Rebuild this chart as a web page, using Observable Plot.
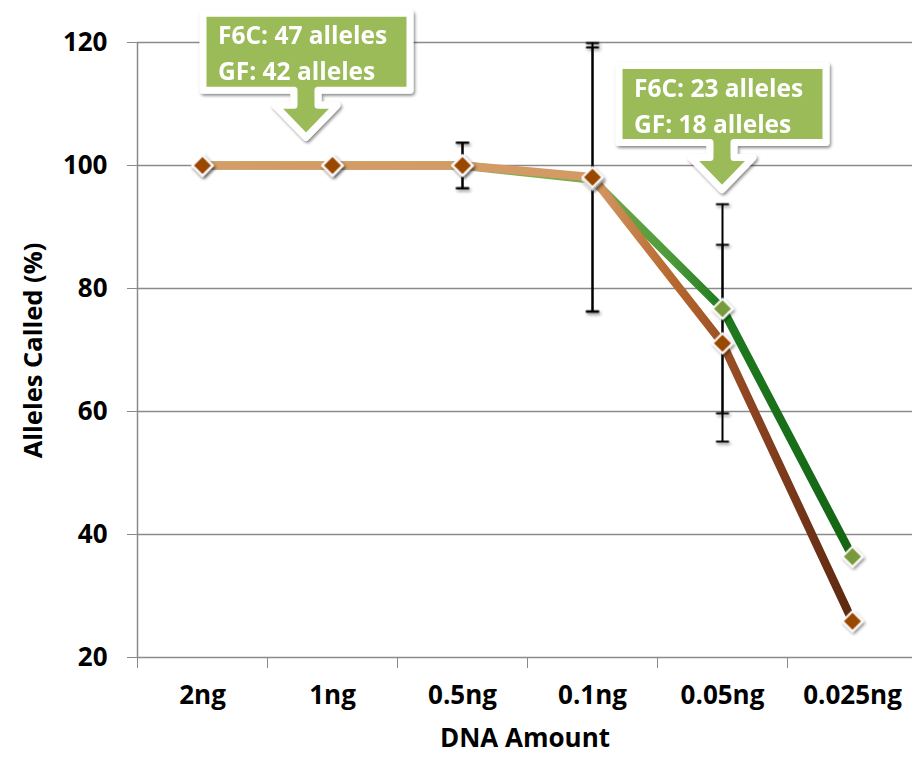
<!DOCTYPE html>
<html><head><meta charset="utf-8">
<script src="https://cdn.jsdelivr.net/npm/d3@7"></script>
<script src="https://cdn.jsdelivr.net/npm/@observablehq/plot@0.6"></script>
<style>
body{margin:0;background:#fff;overflow:hidden}
#chart svg{font-family:"Open Sans",Lato,sans-serif;overflow:visible}
#chart svg text{font-weight:700}
</style></head><body><div id="chart"></div>
<script>
const categories = ["2ng","1ng","0.5ng","0.1ng","0.05ng","0.025ng"];
const f6cValues = [100,100,100,97.7,76.7,36.4];
const gfValues = [100,100,100,98.1,71.1,25.9];
const f6cErrors = [0,0,3.7,21.5,17.0,0];
const gfErrors = [0,0,3.7,21.8,16.0,0];
const yTicks = [20,40,60,80,100,120];
const calloutLines = [["F6C: 47 alleles","GF: 42 alleles"],["F6C: 23 alleles","GF: 18 alleles"]];
const calloutX = [0.8, 4.0];
const calloutY = [104.5, 96];

const rows = categories.map((c,i)=>({i, c, f6c:f6cValues[i], gf:gfValues[i], f6cErr:f6cErrors[i], gfErr:gfErrors[i]}));
const errRows = [];
rows.forEach(r=>{
  if (r.f6cErr>0) errRows.push({i:r.i, lo:r.f6c-r.f6cErr, hi:r.f6c+r.f6cErr});
  if (r.gfErr>0) errRows.push({i:r.i, lo:r.gf-r.gfErr, hi:r.gf+r.gfErr});
});
const capPoints = errRows.flatMap(e=>[{i:e.i,v:e.lo},{i:e.i,v:e.hi}]);
const hline = {draw(ctx, size){ const w = 6.5; ctx.moveTo(-w,0); ctx.lineTo(w,0); }};
const boundaries = d3.range(categories.length+1).map(k=>k-0.5);

const chart = Plot.plot({
  width: 912, height: 758,
  marginLeft: 137, marginRight: 0, marginTop: 42, marginBottom: 100,
  x: {domain:[-0.5, categories.length-0.5], range:[137, 917], label:null},
  y: {domain:[20,120], range:[657, 42], label:null},
  marks: [
    Plot.gridY({ticks: yTicks, stroke:"#8a8a8a", strokeOpacity:1, strokeWidth:1.5}),
    Plot.ruleX([-0.5], {stroke:"#8a8a8a", strokeWidth:1.5}),
    Plot.axisY({ticks: yTicks, tickSize:10, tickPadding:20, fontSize:26, stroke:"#8a8a8a", fill:"#000", label:null}),
    Plot.axisX({ticks: boundaries, tickSize:10, tickFormat:()=>"", stroke:"#8a8a8a", label:null}),
    Plot.axisX({ticks: d3.range(categories.length), tickSize:0, tickPadding:27, tickFormat:i=>categories[i], fontSize:26, fill:"#000", label:null}),
    Plot.text(["Alleles Called (%)"], {frameAnchor:"left", textAnchor:"middle", rotate:-90, dx:-104, fontSize:25.5, fill:"#000"}),
    Plot.text(["DNA Amount"], {frameAnchor:"bottom", textAnchor:"middle", dy:88, fontSize:26, fill:"#000"}),
    Plot.line(rows, {x:"i", y:"f6c", stroke:"url(#gradF6C)", strokeWidth:8.5, strokeLinejoin:"round"}),
    Plot.line(rows, {x:"i", y:"gf", stroke:"url(#gradGF)", strokeWidth:8.5, strokeLinejoin:"round"}),
    Plot.ruleX(errRows, {x:"i", y1:"lo", y2:"hi", stroke:"#000", strokeWidth:2}),
    Plot.dot(capPoints, {x:"i", y:"v", symbol:hline, stroke:"#000", strokeWidth:2, r:5}),
    Plot.dot(rows, {x:"i", y:"f6c", symbol:"diamond2", r:9, fill:"#789a3e", stroke:"#fff", strokeWidth:2}),
    Plot.dot(rows, {x:"i", y:"gf", symbol:"diamond2", r:9, fill:"#9a4603", stroke:"#fff", strokeWidth:2})
  ]
});
document.getElementById("chart").appendChild(chart);

const svg = d3.select(chart);
const defs = svg.insert("defs", ":first-child");
const f = defs.append("filter").attr("id","shadow").attr("x","-50%").attr("y","-50%").attr("width","200%").attr("height","200%");
f.append("feDropShadow").attr("dx",1.5).attr("dy",2).attr("stdDeviation",1.8).attr("flood-color","#000").attr("flood-opacity",0.45);
function grad(id, stops){
  const g = defs.append("linearGradient").attr("id",id).attr("x1",0).attr("x2",1).attr("y1",0).attr("y2",0);
  stops.forEach(([o,c])=>g.append("stop").attr("offset",o).attr("stop-color",c));
}
grad("gradGF", [[0,"#d49c68"],[0.6,"#d49a66"],[0.72,"#b8692f"],[0.85,"#8a4220"],[1,"#5c2810"]]);
grad("gradF6C", [[0,"#9bbb59"],[0.6,"#7aaa4c"],[0.72,"#4e9a3a"],[0.8,"#1f7a1f"],[1,"#146414"]]);
svg.selectAll('g[aria-label="dot"]').attr("filter","url(#shadow)");

const xs = chart.scale("x"), ys = chart.scale("y");
const cg = svg.append("g").attr("filter","url(#shadow)");
calloutLines.forEach((lines,k)=>{
  const tx = xs.apply(calloutX[k]), ty = ys.apply(calloutY[k]);
  const L = tx-103, R = tx+104, B = ty-47, T = B-77, tb = ty-32;
  const d = `M${L},${T}H${R}V${B}H${tx+12}V${tb}H${tx+31}L${tx},${ty}L${tx-31},${tb}H${tx-12}V${B}H${L}Z`;
  const g = cg.append("g");
  g.append("path").attr("d",d).attr("fill","#9bbb59").attr("stroke","#fff").attr("stroke-width",7).attr("stroke-linejoin","round");
  lines.forEach((t,j)=>{
    g.append("text").attr("x",L+15).attr("y",T+31+j*36).attr("fill","#fff").attr("font-size",24.5).attr("text-anchor","start").text(t);
  });
});
</script></body></html>
